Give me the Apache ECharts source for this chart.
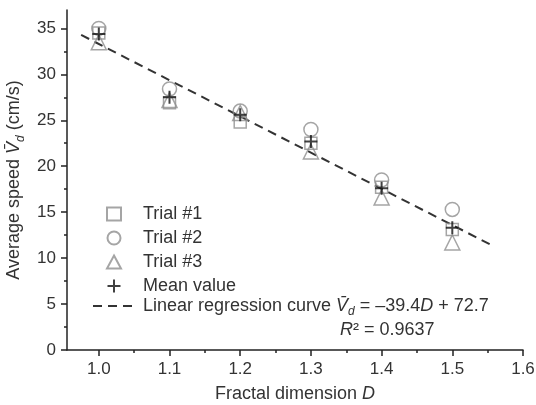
<!DOCTYPE html>
<html>
<head>
  <meta charset="UTF-8">
  <title>Average speed vs fractal dimension</title>
  <script src="https://cdn.jsdelivr.net/npm/echarts@6/dist/echarts.min.js"></script>
  <style type="text/css">
  html, body { margin: 0; padding: 0; background: #ffffff; }
  #chart { width: 536px; height: 405px; }
  </style>
</head>
<body>
  <div id="chart"></div>

  <script>
    // values
    var dims = [1.0, 1.1, 1.2, 1.3, 1.4, 1.5];
    var trial1 = [34.5, 26.9, 24.8, 22.5, 17.7, 13.1];
    var trial2 = [35.0, 28.4, 26.0, 24.0, 18.5, 15.3];
    var trial3 = [33.5, 27.2, 25.8, 21.6, 16.6, 11.7];
    var meanVals = [34.4, 27.5, 25.6, 22.7, 17.6, 13.3];
    // regression line end points (Vd = -39.4D + 72.7)
    var regX = [0.975, 1.555];
    var regY = [34.29, 11.43];

    var xMajor = [1.0, 1.1, 1.2, 1.3, 1.4, 1.5, 1.6];
    var xMinor = [1.05, 1.15, 1.25, 1.35, 1.45, 1.55];
    var yMajor = [0, 5, 10, 15, 20, 25, 30, 35];
    var yMinor = [2.5, 7.5, 12.5, 17.5, 22.5, 27.5, 32.5];

    function pairs(xs, ys) {
      var out = [];
      for (var i = 0; i < xs.length; i++) out.push([xs[i], ys[i]]);
      return out;
    }

    var font = '"Liberation Sans", Arial, sans-serif';
    var ink = '#222';
    var grey = '#8f8f8f';
    var plus = 'path://M0,5L10,5M5,0L5,10';

    var rich = {
      t: {fontSize: 18, color: '#333', fontFamily: font, lineHeight: 18},
      i: {fontSize: 18, color: '#333', fontFamily: font, fontStyle: 'italic', lineHeight: 18},
      v: {fontSize: 18, color: '#333', fontFamily: font, fontStyle: 'italic', lineHeight: 18},
      s: {fontSize: 12, color: '#333', fontFamily: font, fontStyle: 'italic', verticalAlign: 'bottom', lineHeight: 12, padding: [0, 0, -3, 0]}
    };

    var chart = echarts.init(document.getElementById('chart'), null, {renderer: 'canvas'});

    var axisLine = {show: true, lineStyle: {color: ink, width: 1.5}};

    chart.setOption({
      animation: false,
      backgroundColor: '#fff',
      textStyle: {fontFamily: font},
      grid: {left: 67, right: 13, top: 10, bottom: 55, containLabel: false, outerBoundsMode: 'none'},
      xAxis: [{
        type: 'value', min: 0.955, max: 1.6, position: 'bottom',
        axisLine: axisLine,
        splitLine: {show: false},
        axisTick: {show: true, customValues: xMajor, length: 6, lineStyle: {color: ink, width: 1.5}},
        axisLabel: {customValues: xMajor, margin: 11, fontSize: 17, color: '#333', fontFamily: font,
          formatter: function (v) { return v.toFixed(1); }},
        name: '{t|Fractal dimension }{i|D}',
        nameLocation: 'middle', nameGap: 35, nameMoveOverlap: false,
        nameTextStyle: {rich: rich}
      }, {
        type: 'value', min: 0.955, max: 1.6, position: 'bottom', offset: 0,
        axisLine: {show: false},
        splitLine: {show: false},
        axisTick: {show: true, customValues: xMinor, length: 3, lineStyle: {color: ink, width: 1.5}},
        axisLabel: {show: false}
      }],
      yAxis: [{
        type: 'value', min: 0, max: 37, position: 'left',
        axisLine: axisLine,
        splitLine: {show: false},
        axisTick: {show: true, customValues: yMajor, length: 6, lineStyle: {color: ink, width: 1.5}},
        axisLabel: {customValues: yMajor, margin: 11, fontSize: 17, color: '#333', fontFamily: font},
        name: '{t|Average speed }{v|V\u0304}{s|d}{t| (cm/s)}',
        nameLocation: 'middle', nameGap: 36,
        nameTextStyle: {rich: rich}
      }, {
        type: 'value', min: 0, max: 37, position: 'left', offset: 0,
        axisLine: {show: false},
        splitLine: {show: false},
        axisTick: {show: true, customValues: yMinor, length: 3, lineStyle: {color: ink, width: 1.5}},
        axisLabel: {show: false}
      }],
      legend: [{
        orient: 'vertical', left: 101, top: 200,
        itemWidth: 14, itemHeight: 13, itemGap: 6,
        data: ['Trial #1', 'Trial #2', 'Trial #3', 'Mean value'],
        formatter: function (name) { return '{t|' + name + '}'; },
        textStyle: {padding: [0, 0, 0, 17], rich: rich}
      }, {
        orient: 'vertical', left: 87, top: 292,
        itemWidth: 40, itemHeight: 14,
        data: ['Linear regression curve'],
        itemStyle: {color: 'rgba(0,0,0,0)', borderColor: 'rgba(0,0,0,0)', opacity: 0},
        formatter: function () {
          return '{t|Linear regression curve }{v|V\u0304}{s|d}{t| = \u201339.4}{i|D}{t| + 72.7}';
        },
        textStyle: {padding: [0, 0, 0, 5], rich: rich}
      }],
      graphic: [{
        type: 'text', left: 340, top: 321,
        style: {
          text: '{i|R}{t|\u00b2 = 0.9637}',
          rich: {
            t: {fontSize: 18, fill: '#333', fontFamily: font, lineHeight: 18},
            i: {fontSize: 18, fill: '#333', fontFamily: font, fontStyle: 'italic', lineHeight: 18}
          }
        }
      }],
      series: [{
        name: 'Linear regression curve', type: 'line',
        data: pairs(regX, regY), symbol: 'none',
        lineStyle: {color: '#333', width: 2, type: [9, 6]},
        itemStyle: {color: '#333'}, z: 1
      }, {
        name: 'Trial #1', type: 'scatter', data: pairs(dims, trial1),
        symbol: 'rect', symbolSize: 12,
        itemStyle: {color: 'rgba(0,0,0,0)', borderColor: grey, borderWidth: 1.5}, z: 2
      }, {
        name: 'Trial #2', type: 'scatter', data: pairs(dims, trial2),
        symbol: 'circle', symbolSize: 14,
        itemStyle: {color: 'rgba(0,0,0,0)', borderColor: grey, borderWidth: 1.5}, z: 2
      }, {
        name: 'Trial #3', type: 'scatter', data: pairs(dims, trial3),
        symbol: 'triangle', symbolSize: 15,
        itemStyle: {color: 'rgba(0,0,0,0)', borderColor: grey, borderWidth: 1.5}, z: 2
      }, {
        name: 'Mean value', type: 'scatter', data: pairs(dims, meanVals),
        symbol: plus, symbolSize: 13,
        itemStyle: {color: 'rgba(0,0,0,0)', borderColor: '#111', borderWidth: 2}, z: 3
      }]
    });
  </script>
</body>
</html>
